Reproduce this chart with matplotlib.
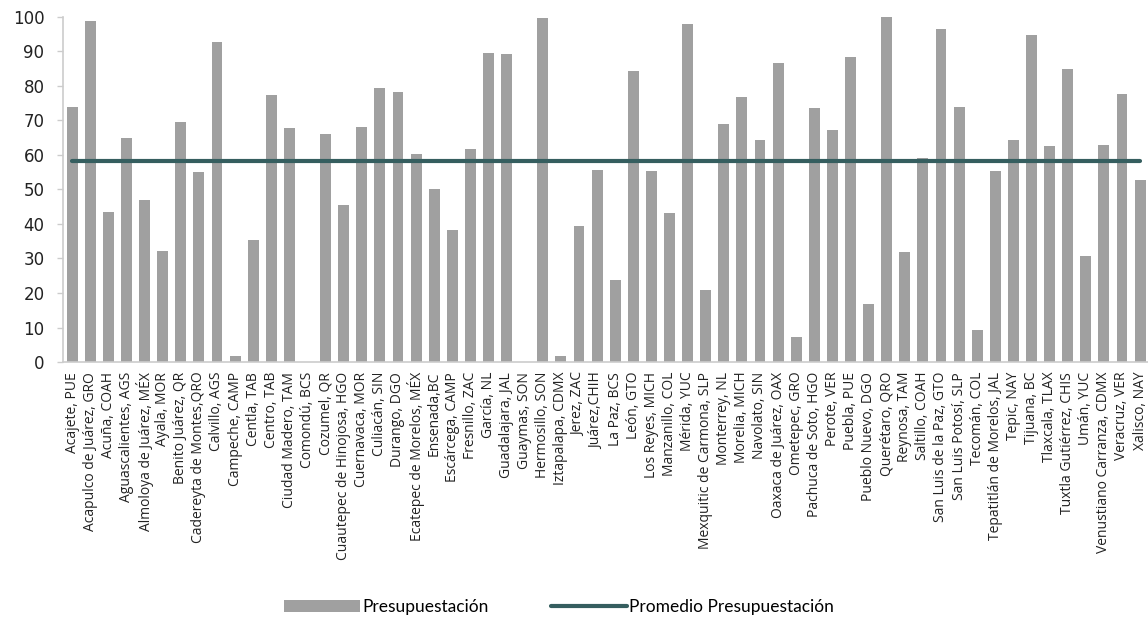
import matplotlib.pyplot as plt

# Municipalities (x categories)
municipios = [
    "Acajete, PUE", "Acapulco de Juárez, GRO", "Acuña, COAH", "Aguascalientes, AGS",
    "Almoloya de Juárez, MÉX", "Ayala, MOR", "Benito Juárez, QR", "Cadereyta de Montes,QRO",
    "Calvillo, AGS", "Campeche, CAMP", "Centla, TAB", "Centro, TAB",
    "Ciudad Madero, TAM", "Comondú, BCS", "Cozumel, QR", "Cuautepec de Hinojosa, HGO",
    "Cuernavaca, MOR", "Culiacán, SIN", "Durango, DGO", "Ecatepec de Morelos, MÉX",
    "Ensenada,BC", "Escárcega, CAMP", "Fresnillo, ZAC", "García, NL",
    "Guadalajara, JAL", "Guaymas, SON", "Hermosillo, SON", "Iztapalapa, CDMX",
    "Jerez, ZAC", "Juárez,CHIH", "La Paz, BCS", "León, GTO",
    "Los Reyes, MICH", "Manzanillo, COL", "Mérida, YUC", "Mexquitic de Carmona, SLP",
    "Monterrey, NL", "Morelia, MICH", "Navolato, SIN", "Oaxaca de Juárez, OAX",
    "Ometepec, GRO", "Pachuca de Soto, HGO", "Perote, VER", "Puebla, PUE",
    "Pueblo Nuevo, DGO", "Querétaro, QRO", "Reynosa, TAM", "Saltillo, COAH",
    "San Luis de la Paz, GTO", "San Luis Potosí, SLP", "Tecomán, COL", "Tepatitlán de Morelos, JAL",
    "Tepic, NAY", "Tijuana, BC", "Tlaxcala, TLAX", "Tuxtla Gutiérrez, CHIS",
    "Umán, YUC", "Venustiano Carranza, CDMX", "Veracruz, VER", "Xalisco, NAY",
]

presupuestacion = [
    74.0, 98.8, 43.5, 65.0,
    47.0, 32.3, 69.5, 55.0,
    92.7, 1.8, 35.3, 77.2,
    67.8, 0.0, 66.0, 45.6,
    68.0, 79.5, 78.3, 60.2,
    50.0, 38.2, 61.6, 89.5,
    89.2, 0.0, 99.5, 1.7,
    39.5, 55.6, 23.8, 84.4,
    55.4, 43.3, 98.0, 21.0,
    69.0, 76.8, 64.2, 86.7,
    7.2, 73.7, 67.3, 88.4,
    16.8, 100.0, 32.0, 59.2,
    96.5, 73.8, 9.2, 55.4,
    64.2, 94.8, 62.6, 85.0,
    30.8, 63.0, 77.5, 52.8,
]

promedio = 58.3

bar_color = "#a0a0a0"
line_color = "#355e5f"

fig = plt.figure(figsize=(11.48, 6.21), dpi=100)
ax = fig.add_axes([0.055, 0.417, 0.946, 0.556])

x = list(range(len(municipios)))
bars = ax.bar(x, presupuestacion, width=0.6, color=bar_color, label="Presupuestación", zorder=2)
line, = ax.plot(x, [promedio] * len(x), color=line_color, linewidth=3,
                solid_capstyle="round", label="Promedio Presupuestación", zorder=3)

ax.set_xlim(-0.5, len(x) - 0.5)
ax.set_ylim(0, 100)
ax.set_yticks(range(0, 101, 10))
ax.set_xticks(x)
ax.set_xticklabels(municipios, rotation=90, fontsize=10, family="Open Sans", color="#222222")
ax.tick_params(axis="x", length=0, pad=7)
ax.tick_params(axis="y", labelsize=12, length=4.5, color="#cccccc", width=1, pad=9)
for lab in ax.get_yticklabels():
    lab.set_family("DejaVu Sans")
    lab.set_color("#222222")

for side in ["top", "right"]:
    ax.spines[side].set_visible(False)
for side in ["left", "bottom"]:
    ax.spines[side].set_color("#cccccc")
    ax.spines[side].set_linewidth(1.2)

fig.legend([bars, line], ["Presupuestación", "Promedio Presupuestación"],
           loc="center", bbox_to_anchor=(0.487, 0.022), ncol=2, frameon=False,
           prop={"family": "Lato", "size": 12.5}, handlelength=4.4,
           handletextpad=0.1, columnspacing=3.6)

fig.savefig("out.png", dpi=100)
